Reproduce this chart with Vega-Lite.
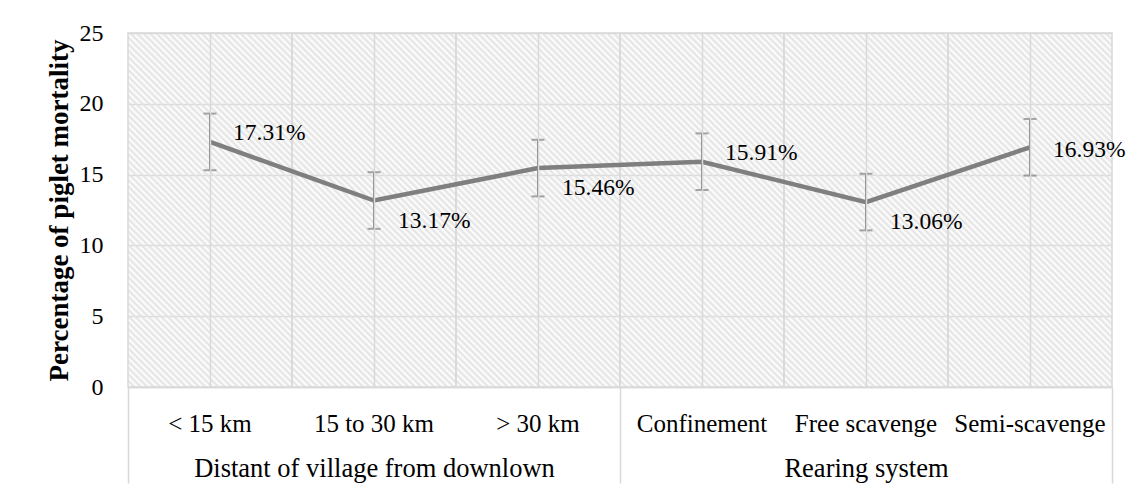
{
  "$schema": "https://vega.github.io/schema/vega-lite/v6.json",
  "width": 984,
  "height": 354,
  "autosize": {"type": "none"},
  "padding": {"left": 128, "top": 33, "right": 25, "bottom": 106},
  "background": "white",
  "config": {
    "font": "Liberation Serif",
    "view": {"stroke": null},
    "text": {"font": "Liberation Serif"},
    "axis": {"labelFont": "Liberation Serif", "titleFont": "Liberation Serif"}
  },
  "resolve": {"scale": {"x": "independent"}, "axis": {"x": "independent"}},
  "layer": [
    {
      "data": {"values": [
        {"group": "Distant of village from downlown"},
        {"group": "Rearing system"}
      ]},
      "mark": {"type": "rect", "opacity": 0},
      "encoding": {
        "x": {
          "field": "group", "type": "nominal",
          "scale": {"type": "band", "paddingInner": 0, "paddingOuter": 0, "domain": ["Distant of village from downlown", "Rearing system"]},
          "axis": {"orient": "bottom", "title": null, "domain": false, "grid": false, "ticks": true, "tickBand": "extent", "tickSize": 96, "tickColor": "#d9d9d9", "tickWidth": 1.5, "labelFontSize": 26.5, "labelLimit": 0, "labelColor": "#000000", "labelPadding": -15, "labelBaseline": "middle", "labelAngle": 0}
        },
        "y": {
          "datum": 0, "type": "quantitative",
          "scale": {"domain": [0, 25], "nice": false},
          "title": "Percentage of piglet mortality",
          "axis": {"values": [0, 5, 10, 15, 20, 25], "grid": true, "gridColor": "#d9d9d9", "gridWidth": 1.5, "domain": false, "ticks": false, "labelFontSize": 24, "labelPadding": 25, "labelColor": "#000000", "titleFontSize": 27, "titleFontWeight": "bold", "titleColor": "#000000", "titlePadding": 6}
        },
        "y2": {"datum": 25}
      }
    },
    {
      "data": {"values": [
        {"cat": "< 15 km", "group": "Distant of village from downlown", "value": 17.31, "lo": 15.31, "hi": 19.31},
        {"cat": "15 to 30 km", "group": "Distant of village from downlown", "value": 13.17, "lo": 11.17, "hi": 15.17},
        {"cat": "> 30 km", "group": "Distant of village from downlown", "value": 15.46, "lo": 13.46, "hi": 17.46},
        {"cat": "Confinement", "group": "Rearing system", "value": 15.91, "lo": 13.91, "hi": 17.91},
        {"cat": "Free scavenge", "group": "Rearing system", "value": 13.06, "lo": 11.06, "hi": 15.06},
        {"cat": "Semi-scavenge", "group": "Rearing system", "value": 16.93, "lo": 14.93, "hi": 18.93}
      ]},
      "encoding": {
        "x": {
          "field": "cat", "type": "nominal",
          "scale": {"type": "band", "paddingInner": 0, "paddingOuter": 0, "domain": ["< 15 km", "15 to 30 km", "> 30 km", "Confinement", "Free scavenge", "Semi-scavenge"]},
          "axis": {"orient": "bottom", "title": null, "labelAngle": 0, "labelFontSize": 25, "labelLimit": 0, "labelColor": "#000000", "labelPadding": 36, "labelBaseline": "middle", "ticks": false, "domain": true, "domainColor": "#d9d9d9", "domainWidth": 1.5, "grid": true, "gridColor": "#d9d9d9", "gridWidth": 1.5}
        }
      },
      "layer": [
        {
          "mark": {
            "type": "rect", "stroke": "#d9d9d9", "strokeWidth": 1.5,
            "fill": {
              "gradient": "linear", "x1": 0, "y1": 1, "x2": 0.55811, "y2": -0.20471,
              "stops": [
                {"offset": 0, "color": "#e2e2e2"}, {"offset": 0.00625, "color": "rgba(226,226,226,0)"}, {"offset": 0.0125, "color": "#e2e2e2"}, {"offset": 0.01875, "color": "rgba(226,226,226,0)"}, {"offset": 0.025, "color": "#e2e2e2"}, {"offset": 0.03125, "color": "rgba(226,226,226,0)"}, {"offset": 0.0375, "color": "#e2e2e2"}, {"offset": 0.04375, "color": "rgba(226,226,226,0)"},
                {"offset": 0.05, "color": "#e2e2e2"}, {"offset": 0.05625, "color": "rgba(226,226,226,0)"}, {"offset": 0.0625, "color": "#e2e2e2"}, {"offset": 0.06875, "color": "rgba(226,226,226,0)"}, {"offset": 0.075, "color": "#e2e2e2"}, {"offset": 0.08125, "color": "rgba(226,226,226,0)"}, {"offset": 0.0875, "color": "#e2e2e2"}, {"offset": 0.09375, "color": "rgba(226,226,226,0)"},
                {"offset": 0.1, "color": "#e2e2e2"}, {"offset": 0.10625, "color": "rgba(226,226,226,0)"}, {"offset": 0.1125, "color": "#e2e2e2"}, {"offset": 0.11875, "color": "rgba(226,226,226,0)"}, {"offset": 0.125, "color": "#e2e2e2"}, {"offset": 0.13125, "color": "rgba(226,226,226,0)"}, {"offset": 0.1375, "color": "#e2e2e2"}, {"offset": 0.14375, "color": "rgba(226,226,226,0)"},
                {"offset": 0.15, "color": "#e2e2e2"}, {"offset": 0.15625, "color": "rgba(226,226,226,0)"}, {"offset": 0.1625, "color": "#e2e2e2"}, {"offset": 0.16875, "color": "rgba(226,226,226,0)"}, {"offset": 0.175, "color": "#e2e2e2"}, {"offset": 0.18125, "color": "rgba(226,226,226,0)"}, {"offset": 0.1875, "color": "#e2e2e2"}, {"offset": 0.19375, "color": "rgba(226,226,226,0)"},
                {"offset": 0.2, "color": "#e2e2e2"}, {"offset": 0.20625, "color": "rgba(226,226,226,0)"}, {"offset": 0.2125, "color": "#e2e2e2"}, {"offset": 0.21875, "color": "rgba(226,226,226,0)"}, {"offset": 0.225, "color": "#e2e2e2"}, {"offset": 0.23125, "color": "rgba(226,226,226,0)"}, {"offset": 0.2375, "color": "#e2e2e2"}, {"offset": 0.24375, "color": "rgba(226,226,226,0)"},
                {"offset": 0.25, "color": "#e2e2e2"}, {"offset": 0.25625, "color": "rgba(226,226,226,0)"}, {"offset": 0.2625, "color": "#e2e2e2"}, {"offset": 0.26875, "color": "rgba(226,226,226,0)"}, {"offset": 0.275, "color": "#e2e2e2"}, {"offset": 0.28125, "color": "rgba(226,226,226,0)"}, {"offset": 0.2875, "color": "#e2e2e2"}, {"offset": 0.29375, "color": "rgba(226,226,226,0)"},
                {"offset": 0.3, "color": "#e2e2e2"}, {"offset": 0.30625, "color": "rgba(226,226,226,0)"}, {"offset": 0.3125, "color": "#e2e2e2"}, {"offset": 0.31875, "color": "rgba(226,226,226,0)"}, {"offset": 0.325, "color": "#e2e2e2"}, {"offset": 0.33125, "color": "rgba(226,226,226,0)"}, {"offset": 0.3375, "color": "#e2e2e2"}, {"offset": 0.34375, "color": "rgba(226,226,226,0)"},
                {"offset": 0.35, "color": "#e2e2e2"}, {"offset": 0.35625, "color": "rgba(226,226,226,0)"}, {"offset": 0.3625, "color": "#e2e2e2"}, {"offset": 0.36875, "color": "rgba(226,226,226,0)"}, {"offset": 0.375, "color": "#e2e2e2"}, {"offset": 0.38125, "color": "rgba(226,226,226,0)"}, {"offset": 0.3875, "color": "#e2e2e2"}, {"offset": 0.39375, "color": "rgba(226,226,226,0)"},
                {"offset": 0.4, "color": "#e2e2e2"}, {"offset": 0.40625, "color": "rgba(226,226,226,0)"}, {"offset": 0.4125, "color": "#e2e2e2"}, {"offset": 0.41875, "color": "rgba(226,226,226,0)"}, {"offset": 0.425, "color": "#e2e2e2"}, {"offset": 0.43125, "color": "rgba(226,226,226,0)"}, {"offset": 0.4375, "color": "#e2e2e2"}, {"offset": 0.44375, "color": "rgba(226,226,226,0)"},
                {"offset": 0.45, "color": "#e2e2e2"}, {"offset": 0.45625, "color": "rgba(226,226,226,0)"}, {"offset": 0.4625, "color": "#e2e2e2"}, {"offset": 0.46875, "color": "rgba(226,226,226,0)"}, {"offset": 0.475, "color": "#e2e2e2"}, {"offset": 0.48125, "color": "rgba(226,226,226,0)"}, {"offset": 0.4875, "color": "#e2e2e2"}, {"offset": 0.49375, "color": "rgba(226,226,226,0)"},
                {"offset": 0.5, "color": "#e2e2e2"}, {"offset": 0.50625, "color": "rgba(226,226,226,0)"}, {"offset": 0.5125, "color": "#e2e2e2"}, {"offset": 0.51875, "color": "rgba(226,226,226,0)"}, {"offset": 0.525, "color": "#e2e2e2"}, {"offset": 0.53125, "color": "rgba(226,226,226,0)"}, {"offset": 0.5375, "color": "#e2e2e2"}, {"offset": 0.54375, "color": "rgba(226,226,226,0)"},
                {"offset": 0.55, "color": "#e2e2e2"}, {"offset": 0.55625, "color": "rgba(226,226,226,0)"}, {"offset": 0.5625, "color": "#e2e2e2"}, {"offset": 0.56875, "color": "rgba(226,226,226,0)"}, {"offset": 0.575, "color": "#e2e2e2"}, {"offset": 0.58125, "color": "rgba(226,226,226,0)"}, {"offset": 0.5875, "color": "#e2e2e2"}, {"offset": 0.59375, "color": "rgba(226,226,226,0)"},
                {"offset": 0.6, "color": "#e2e2e2"}, {"offset": 0.60625, "color": "rgba(226,226,226,0)"}, {"offset": 0.6125, "color": "#e2e2e2"}, {"offset": 0.61875, "color": "rgba(226,226,226,0)"}, {"offset": 0.625, "color": "#e2e2e2"}, {"offset": 0.63125, "color": "rgba(226,226,226,0)"}, {"offset": 0.6375, "color": "#e2e2e2"}, {"offset": 0.64375, "color": "rgba(226,226,226,0)"},
                {"offset": 0.65, "color": "#e2e2e2"}, {"offset": 0.65625, "color": "rgba(226,226,226,0)"}, {"offset": 0.6625, "color": "#e2e2e2"}, {"offset": 0.66875, "color": "rgba(226,226,226,0)"}, {"offset": 0.675, "color": "#e2e2e2"}, {"offset": 0.68125, "color": "rgba(226,226,226,0)"}, {"offset": 0.6875, "color": "#e2e2e2"}, {"offset": 0.69375, "color": "rgba(226,226,226,0)"},
                {"offset": 0.7, "color": "#e2e2e2"}, {"offset": 0.70625, "color": "rgba(226,226,226,0)"}, {"offset": 0.7125, "color": "#e2e2e2"}, {"offset": 0.71875, "color": "rgba(226,226,226,0)"}, {"offset": 0.725, "color": "#e2e2e2"}, {"offset": 0.73125, "color": "rgba(226,226,226,0)"}, {"offset": 0.7375, "color": "#e2e2e2"}, {"offset": 0.74375, "color": "rgba(226,226,226,0)"},
                {"offset": 0.75, "color": "#e2e2e2"}, {"offset": 0.75625, "color": "rgba(226,226,226,0)"}, {"offset": 0.7625, "color": "#e2e2e2"}, {"offset": 0.76875, "color": "rgba(226,226,226,0)"}, {"offset": 0.775, "color": "#e2e2e2"}, {"offset": 0.78125, "color": "rgba(226,226,226,0)"}, {"offset": 0.7875, "color": "#e2e2e2"}, {"offset": 0.79375, "color": "rgba(226,226,226,0)"},
                {"offset": 0.8, "color": "#e2e2e2"}, {"offset": 0.80625, "color": "rgba(226,226,226,0)"}, {"offset": 0.8125, "color": "#e2e2e2"}, {"offset": 0.81875, "color": "rgba(226,226,226,0)"}, {"offset": 0.825, "color": "#e2e2e2"}, {"offset": 0.83125, "color": "rgba(226,226,226,0)"}, {"offset": 0.8375, "color": "#e2e2e2"}, {"offset": 0.84375, "color": "rgba(226,226,226,0)"},
                {"offset": 0.85, "color": "#e2e2e2"}, {"offset": 0.85625, "color": "rgba(226,226,226,0)"}, {"offset": 0.8625, "color": "#e2e2e2"}, {"offset": 0.86875, "color": "rgba(226,226,226,0)"}, {"offset": 0.875, "color": "#e2e2e2"}, {"offset": 0.88125, "color": "rgba(226,226,226,0)"}, {"offset": 0.8875, "color": "#e2e2e2"}, {"offset": 0.89375, "color": "rgba(226,226,226,0)"},
                {"offset": 0.9, "color": "#e2e2e2"}, {"offset": 0.90625, "color": "rgba(226,226,226,0)"}, {"offset": 0.9125, "color": "#e2e2e2"}, {"offset": 0.91875, "color": "rgba(226,226,226,0)"}, {"offset": 0.925, "color": "#e2e2e2"}, {"offset": 0.93125, "color": "rgba(226,226,226,0)"}, {"offset": 0.9375, "color": "#e2e2e2"}, {"offset": 0.94375, "color": "rgba(226,226,226,0)"},
                {"offset": 0.95, "color": "#e2e2e2"}, {"offset": 0.95625, "color": "rgba(226,226,226,0)"}, {"offset": 0.9625, "color": "#e2e2e2"}, {"offset": 0.96875, "color": "rgba(226,226,226,0)"}, {"offset": 0.975, "color": "#e2e2e2"}, {"offset": 0.98125, "color": "rgba(226,226,226,0)"}, {"offset": 0.9875, "color": "#e2e2e2"}, {"offset": 0.99375, "color": "rgba(226,226,226,0)"},
                {"offset": 1, "color": "#e2e2e2"}
              ]
            }
          },
          "encoding": {
            "y": {"datum": 0, "type": "quantitative", "title": "Percentage of piglet mortality"},
            "y2": {"datum": 25}
          }
        },
        {
          "mark": {"type": "rule", "color": "#808080", "strokeWidth": 2},
          "encoding": {
            "y": {"field": "lo", "type": "quantitative", "title": "Percentage of piglet mortality"},
            "y2": {"field": "hi"}
          }
        },
        {
          "mark": {"type": "tick", "orient": "horizontal", "color": "#808080", "size": 13, "thickness": 2},
          "encoding": {"y": {"field": "lo", "type": "quantitative", "title": "Percentage of piglet mortality"}}
        },
        {
          "mark": {"type": "tick", "orient": "horizontal", "color": "#808080", "size": 13, "thickness": 2},
          "encoding": {"y": {"field": "hi", "type": "quantitative", "title": "Percentage of piglet mortality"}}
        },
        {
          "mark": {"type": "line", "color": "#7f7f7f", "strokeWidth": 4.5},
          "encoding": {"y": {"field": "value", "type": "quantitative", "title": "Percentage of piglet mortality"}}
        },
        {
          "transform": [
            {"filter": {"field": "cat", "oneOf": ["< 15 km", "Confinement"]}},
            {"calculate": "format(datum.value, '.2f') + '%'", "as": "label"}
          ],
          "mark": {"type": "text", "align": "left", "baseline": "middle", "dx": 23, "dy": -9, "fontSize": 23.5, "color": "#000000", "font": "Liberation Serif"},
          "encoding": {
            "y": {"field": "value", "type": "quantitative", "title": "Percentage of piglet mortality"},
            "text": {"field": "label", "type": "nominal"}
          }
        },
        {
          "transform": [
            {"filter": {"field": "cat", "oneOf": ["15 to 30 km", "> 30 km", "Free scavenge"]}},
            {"calculate": "format(datum.value, '.2f') + '%'", "as": "label"}
          ],
          "mark": {"type": "text", "align": "left", "baseline": "middle", "dx": 24, "dy": 20, "fontSize": 23.5, "color": "#000000", "font": "Liberation Serif"},
          "encoding": {
            "y": {"field": "value", "type": "quantitative", "title": "Percentage of piglet mortality"},
            "text": {"field": "label", "type": "nominal"}
          }
        },
        {
          "transform": [
            {"filter": {"field": "cat", "oneOf": ["Semi-scavenge"]}},
            {"calculate": "format(datum.value, '.2f') + '%'", "as": "label"}
          ],
          "mark": {"type": "text", "align": "left", "baseline": "middle", "dx": 23, "dy": 3, "fontSize": 23.5, "color": "#000000", "font": "Liberation Serif"},
          "encoding": {
            "y": {"field": "value", "type": "quantitative", "title": "Percentage of piglet mortality"},
            "text": {"field": "label", "type": "nominal"}
          }
        }
      ]
    }
  ]
}
